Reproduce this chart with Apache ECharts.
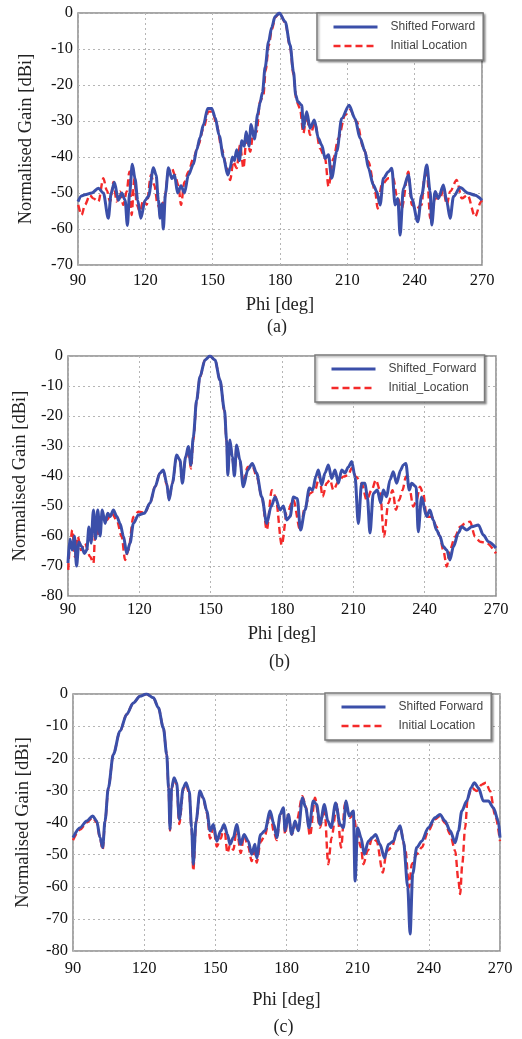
<!DOCTYPE html>
<html>
<head>
<meta charset="utf-8">
<script src="https://cdn.jsdelivr.net/npm/echarts@6/dist/echarts.min.js"></script>
<style>
  html, body { margin: 0; padding: 0; background: #fff; }
  #chart { width: 522px; height: 1039px; }
</style>
</head>
<body>
<div id="chart"></div>
<script>
// Azimuth cuts of the normalised gain, three pointing cases (a), (b), (c).
// Each entry is [phi in degrees, gain in dBi].

const PHI_TICKS = [90, 120, 150, 180, 210, 240, 270];
const GAIN_MIN = [-70, -80, -80];
const CAPTIONS = ['(a)', '(b)', '(c)'];
const NAMES_SF = ['Shifted Forward', 'Shifted_Forward', 'Shifted Forward'];
const NAMES_IL = ['Initial Location', 'Initial_Location', 'Initial Location'];

const shiftedA = [[90,-52.4],[91.5,-50.8],[93.1,-50.5],[96.1,-50],[99.1,-48.7],[101.3,-50],[103.5,-57],[104.8,-50],[106.2,-47],[108,-52],[109.5,-50],[111,-52],[112,-59],[113,-50],[114.2,-42],[115.4,-46],[116.6,-52],[118,-57],[119.9,-52],[121.4,-51],[123.6,-43],[124.8,-45],[125.8,-52],[126.6,-57],[127.3,-53],[128,-60],[129,-50],[130.3,-43],[131.8,-46],[133,-45],[134.4,-50],[135.9,-48],[137.4,-50],[139.2,-45],[141.4,-42],[142.9,-38],[144.4,-34.5],[145.9,-31],[147.8,-26.5],[149.6,-26.5],[151.1,-29],[152.9,-34],[154.8,-40],[156.7,-45],[157.8,-43],[158.8,-40],[159.7,-41],[160.7,-38],[161.9,-41],[163,-35.5],[164.1,-37],[164.9,-33],[166.2,-37],[167.1,-31],[168.6,-35],[170.1,-28],[171.1,-25],[172.2,-22],[173.4,-15],[174.9,-8],[176.3,-4],[177.8,-1],[179.7,0],[182.3,-2.4],[184.5,-8.9],[186,-16.3],[187,-22.8],[187.9,-24.6],[189.7,-25.6],[190.4,-32],[191.9,-27.4],[193.4,-32],[195.3,-29.7],[197.1,-34.8],[198.6,-36.7],[200.1,-40.4],[201.6,-39.4],[203,-45.9],[205.3,-38.5],[207.5,-29.3],[210.8,-25.6],[213.4,-29.3],[215.7,-34.8],[217.9,-38.5],[219.4,-43.1],[221.6,-47.8],[223.1,-49.6],[224.6,-53.3],[226.1,-45.9],[228.3,-44.1],[229.8,-43.1],[231.3,-53.3],[232.5,-51.5],[233.5,-61.7],[235,-48.7],[237.2,-45],[238.7,-51.5],[241.4,-58],[243.1,-50.6],[245.4,-42.2],[246.9,-49.6],[247.6,-58.9],[249.1,-49.6],[250.6,-51.5],[252.8,-47.8],[254.3,-52.4],[255.8,-57],[257.3,-51],[260.2,-48.5],[264,-50.1],[266.9,-50.6],[270,-52]];

const initialA = [[90.1,-53.3],[91.6,-56.1],[93.1,-53.3],[95.3,-50.6],[96.8,-51.5],[99.1,-52.4],[101.3,-45.9],[102.8,-49.2],[104.3,-52.4],[105.8,-46.9],[107.2,-52.4],[108.7,-49.6],[110.2,-53.3],[111.7,-49.6],[112.9,-44.1],[113.9,-56.1],[115.1,-45.9],[116.2,-53.3],[117.6,-55.2],[119.1,-51.9],[120.6,-53.3],[122.5,-45],[124,-47.8],[125.5,-53.3],[127,-55.2],[128.5,-51.5],[130.3,-44.1],[131.8,-43.1],[133.2,-45],[134.7,-47.8],[135.9,-53.3],[137.4,-46.9],[139.2,-44.1],[141.4,-40.4],[143.6,-36.7],[145.9,-32],[148.1,-27.4],[149.9,-27.4],[151.8,-31.1],[154,-37.6],[156.3,-43.1],[157.8,-46.4],[159.2,-41.3],[160.7,-43.1],[162.2,-36.7],[163.7,-43.1],[165.2,-33.9],[166.7,-38.5],[168.2,-33],[169.6,-33],[171.1,-24.6],[172.6,-22.8],[173.6,-16],[175,-9],[176.4,-4.5],[177.9,-1.2],[179.8,0],[182.3,-2.6],[184.5,-9.4],[186,-17.2],[187.4,-24.6],[188.9,-26.5],[190.4,-33.4],[191.9,-28.3],[193.4,-33.9],[195.6,-30.6],[197.8,-37.6],[200.1,-40.4],[201.6,-48.2],[203.8,-40.4],[206,-34.8],[209,-28.3],[211.2,-26.9],[214.2,-30.2],[217.2,-37.6],[219.4,-41.3],[222.4,-49.6],[223.5,-54.3],[225.3,-47.8],[228.3,-45.9],[230.5,-45.9],[232,-50.6],[234.2,-54.3],[237.2,-44.1],[238.7,-53.3],[240.9,-54.3],[243.1,-53.3],[244.3,-45.9],[245.4,-43.1],[246.9,-57],[249.1,-51.5],[251.3,-51.5],[252.8,-49.2],[254.3,-53.3],[255.8,-49.6],[258.7,-46.4],[261,-51.5],[263.6,-50.6],[266.9,-56.6],[269.6,-52.4],[270,-52]];

const shiftedB = [[90,-69],[90.8,-61],[91.8,-64.7],[92.7,-60],[93.6,-70],[94.6,-62],[95.7,-63.5],[96.9,-65.8],[97.9,-64.7],[98.8,-57],[99.7,-62.4],[100.7,-51.3],[101.6,-61],[102.5,-51.3],[103.5,-60],[104.4,-51.3],[105.6,-55.8],[106.7,-52.4],[107.7,-53.5],[109.1,-51.3],[110.5,-53.5],[111.9,-55.8],[113.3,-60],[114.7,-65.8],[116.1,-62.4],[117.5,-55.8],[119.6,-53],[122.1,-52.4],[124.5,-49],[126.6,-43.6],[128.7,-39],[130.1,-38],[131.5,-42.4],[132.5,-48],[133.9,-42.4],[135.7,-33],[137.1,-34.7],[138.1,-42.4],[139.5,-33.6],[140.6,-30.2],[141.7,-36.3],[142.7,-27],[144.1,-14.7],[145.5,-6.9],[147.6,-1.3],[149.7,0],[151.8,-1.3],[153.9,-8],[155.8,-18],[156.7,-28],[157.2,-39.7],[158.1,-28],[159.1,-33.6],[160,-40],[160.9,-29.7],[162.3,-34.7],[163.7,-43.6],[165.6,-38],[167.5,-35.8],[169.3,-39],[171.5,-47],[173.6,-55.8],[175.4,-50.2],[177.1,-47],[179.2,-51.3],[180.6,-50],[182,-54.7],[183.4,-53.5],[184.8,-47],[186.4,-47.5],[187.8,-58],[189.7,-51.3],[191.5,-44],[192.9,-44.7],[194.3,-40],[195.3,-38],[196.7,-43],[198.1,-39],[199.5,-36.3],[200.9,-40.8],[202.3,-38],[203.7,-42.4],[205.1,-38],[206.5,-39],[207.9,-37],[209.3,-35.2],[210.7,-40.2],[212.1,-55.8],[213.5,-42.4],[214.9,-42.4],[215.9,-47],[217,-59],[218.4,-45.8],[220.1,-44.7],[221.5,-49],[222.6,-44.7],[224,-46.9],[225.4,-41.3],[226.8,-38.6],[228.2,-42.4],[229.9,-38],[231,-36.3],[232.1,-35.8],[233.5,-44.7],[234.5,-42.4],[236.4,-43.6],[237.3,-58.6],[238.7,-47],[240.8,-53.5],[242.2,-51.3],[243.6,-54.7],[245,-58],[246.4,-60],[247.8,-63.5],[249.3,-64.7],[250.6,-68],[252.1,-63.5],[254.2,-59],[255.6,-56.9],[257.7,-58],[259.8,-56.9],[262.6,-56.3],[264.7,-59.7],[266.8,-61.9],[270,-64]];

const initialB = [[90.1,-71.3],[90.8,-63.6],[91.8,-58],[92.9,-66.9],[94.1,-60.2],[95.5,-64.7],[97.1,-62.4],[99.3,-66.9],[100.7,-69.1],[101.6,-55.8],[102.8,-60.2],[104.2,-53.6],[106.3,-54.7],[108.4,-52.4],[110.5,-54.7],[112.6,-60.2],[114,-68],[115.4,-64.7],[117.5,-53.6],[119.6,-51.9],[122.4,-52.2],[124.5,-49],[126.6,-43.6],[128.7,-39],[130.1,-38.3],[131.5,-42.8],[132.5,-47.5],[133.9,-42.4],[135.7,-33.5],[137.1,-35],[138.1,-41.5],[139.5,-34],[140.6,-31],[141.7,-37.5],[142.7,-28],[144.1,-15],[145.5,-7],[147.6,-1.3],[149.7,0],[151.8,-1.3],[153.9,-8],[155.8,-18.5],[156.7,-28.5],[157.2,-38.5],[158.1,-29],[159.1,-34],[160,-39],[160.9,-30.5],[162.3,-35],[163.7,-42],[165.6,-37],[167.5,-36.5],[169.3,-40],[171.5,-46.9],[173.6,-58],[175.7,-44.7],[177.3,-46.9],[179.9,-63],[182,-52.4],[184.8,-48],[187.6,-58],[189.7,-50.2],[191.8,-45.8],[193.9,-44.7],[195.7,-40.2],[197.1,-46.9],[198.8,-42.4],[200.2,-41.3],[201.6,-44.7],[203.7,-41.9],[205.8,-40.2],[207.9,-39.7],[209.3,-37.4],[211.1,-40.2],[213.5,-42.4],[215.6,-48],[217.7,-44.7],[219.5,-41.3],[221.2,-44.7],[222.9,-60.2],[224.7,-49.1],[226.5,-44.7],[227.9,-51.3],[229.3,-48],[230.7,-44.7],[232.1,-40.2],[233.5,-43.6],[235.2,-50.2],[236.6,-48],[238,-43.6],[239.4,-45.8],[240.8,-53.6],[243,-53.6],[245,-56.9],[246.4,-60.2],[247.8,-64.7],[249.3,-70.2],[250.6,-64.7],[252.8,-60.2],[254.9,-56.9],[257,-55.8],[259.1,-55.2],[261.2,-60.2],[263.3,-61.9],[266.1,-62.4],[270,-65.8]];

const shiftedC = [[90,-44.7],[93,-41.6],[95.8,-39.5],[98.3,-38],[100,-39.5],[101.4,-44.7],[102.5,-47.8],[103.5,-39.5],[104.9,-29.2],[107,-18.8],[109.8,-11.6],[112.6,-6.4],[115.4,-2.8],[118.2,-0.7],[121,0],[123.9,-1.2],[126,-4.3],[128.1,-10.6],[129.5,-18.8],[130.3,-29.2],[130.9,-42.1],[131.6,-29.2],[132.6,-26.1],[133.7,-27.6],[134.8,-39],[136.5,-29.2],[137.6,-27.6],[139,-30.2],[140,-41.6],[140.7,-53],[141.9,-39.5],[143.5,-30.2],[144.9,-32.3],[146.4,-36.4],[147.8,-42.6],[149.2,-40.6],[150.6,-45.8],[152.3,-42.6],[153.7,-40.6],[155.1,-43.7],[156.2,-46.8],[157.6,-44.7],[159,-40.6],[160.7,-46.8],[162.1,-43.7],[163.9,-45.8],[165.3,-49.9],[166.7,-46.8],[167.4,-51],[169.1,-43.7],[170.9,-42.6],[173.1,-36.4],[174.7,-40.6],[175.9,-44.7],[177.3,-37.5],[178.7,-35.4],[179.4,-42.6],[180.8,-37.5],[182.2,-43.7],[183.6,-39.5],[185,-42.6],[186.7,-32.3],[188.1,-35.4],[189.5,-41.6],[191.3,-33.3],[192.7,-34.4],[194.1,-40.6],[196,-34.4],[197.4,-39.5],[198.8,-41.6],[200.7,-33.9],[202.6,-40.6],[204,-41.6],[205.1,-33.3],[206.4,-38],[208.2,-36.4],[208.9,-58.2],[210,-41.6],[211.4,-44.7],[212.8,-49.9],[214.5,-45.8],[216.2,-44.7],[217.6,-43.7],[219.4,-46.8],[221.3,-51],[223,-46.8],[225.1,-45.8],[226.5,-42.6],[227.9,-41],[229.3,-45.8],[231.1,-60],[232.1,-74.7],[233.2,-56],[234.9,-47.8],[237,-45.8],[239.8,-41.6],[242.6,-38.5],[244.7,-37.5],[246.8,-39.5],[249,-42.6],[251.1,-46.3],[252.5,-42.6],[253.9,-36.4],[256,-33.3],[257.8,-29.2],[259.2,-27.6],[260.9,-29.2],[263,-33.3],[265.1,-33.3],[267.2,-35.4],[269.3,-39.5],[270,-44.7]];

const initialC = [[90,-45.5],[93,-42.2],[95.8,-40],[98.3,-38.5],[100,-40],[101.4,-45],[102.5,-48.5],[103.5,-39.8],[104.9,-29.4],[107,-18.8],[109.8,-11.6],[112.6,-6.4],[115.4,-2.8],[118.2,-0.7],[121,0],[123.9,-1.2],[126,-4.3],[128.1,-10.6],[129.5,-18.8],[130.3,-29.4],[130.9,-42.5],[131.6,-29.5],[132.6,-26.5],[133.7,-28.2],[134.8,-40.5],[136.5,-29.6],[137.6,-28],[139,-31],[140,-42],[140.7,-55],[141.9,-40],[143.5,-30.5],[144.9,-32.5],[146.4,-37],[147.8,-45],[149.2,-41.5],[150.6,-47.5],[152.3,-45],[153.7,-41],[155.1,-49.5],[156.2,-47],[157.6,-48.5],[159,-42],[160.7,-49.5],[162.1,-44],[163.9,-47.5],[165.3,-52],[166.7,-47.5],[167.4,-52.5],[169.1,-46],[170.9,-44],[173.1,-37],[174.7,-43],[175.9,-45.5],[177.3,-38],[178.7,-36],[179.4,-43.7],[180.8,-37.5],[182.2,-43.7],[184.3,-39.5],[186.7,-31.8],[188.1,-34.9],[189.9,-44.2],[192,-32.3],[194.1,-41.6],[196,-35.4],[197.6,-53],[199,-44.7],[201.2,-34.4],[203,-47.8],[204.7,-33.9],[206.8,-38.5],[208.2,-37.5],[209.6,-42.6],[211.4,-47.8],[212.4,-53],[214.2,-48.9],[216.2,-44.7],[218,-45.8],[220.6,-55.6],[222.2,-48.9],[224.4,-47.8],[226.5,-42.6],[227.9,-41.6],[230,-47.8],[231.7,-60.2],[232.8,-53],[234.9,-49.9],[237,-47.8],[239.8,-42.6],[242.6,-39],[244.7,-38],[246.8,-40.1],[249,-43.7],[251.1,-48.9],[252.5,-58.2],[253.2,-62.3],[254.1,-53],[255.3,-41.6],[256.4,-32.3],[258.1,-29.2],[260.2,-30.2],[262.3,-28.2],[264.1,-27.6],[265.8,-30.2],[267.9,-37.5],[270,-45.8]];

const SHIFTED = [shiftedA, shiftedB, shiftedC];
const INITIAL = [initialA, initialB, initialC];

// ---- layout & styling ----
const SERIF = 'Liberation Serif';
const SANS = 'Liberation Sans';
const BLUE = '#3b4fa9';
const RED = '#f42a2a';

const grids = [
  { left: 78, top: 13, width: 404, height: 252 },
  { left: 68, top: 356, width: 428, height: 240 },
  { left: 73, top: 694, width: 427, height: 257 }
];
const xNameGap = [31, 29, 40];
const xLabelMargin = [7, 5, 9];
const yNameGap = [42, 37, 40];
const captionTop = [318, 653, 1018];
const legendPos = [
  { left: 317, top: 13 },
  { left: 315, top: 355 },
  { left: 325, top: 693 }
];

const option = {
  backgroundColor: '#fff',
  animation: false,
  title: CAPTIONS.map((t, i) => ({
    text: t,
    left: grids[i].left + grids[i].width / 2 - 13,
    top: captionTop[i],
    padding: 0,
    textStyle: { fontFamily: SERIF, fontSize: 18, fontWeight: 'normal', color: '#222' }
  })),
  grid: grids.map(g => Object.assign({
    show: true, borderColor: '#8a8a8a', borderWidth: 1.5, backgroundColor: 'transparent'
  }, g)),
  legend: legendPos.map((p, i) => ({
    left: p.left, top: p.top,
    orient: 'vertical',
    data: [NAMES_SF[i], NAMES_IL[i]],
    itemWidth: 44, itemHeight: 14, itemGap: 7,
    padding: [8, 8, 8, 15],
    backgroundColor: '#fff',
    borderColor: '#7a7a7a', borderWidth: 1.5, borderRadius: 0,
    shadowColor: 'rgba(0,0,0,0.35)', shadowBlur: 2, shadowOffsetX: 1.5, shadowOffsetY: 1.5,
    selectedMode: false,
    itemStyle: { color: 'transparent', borderWidth: 0, opacity: 0 },
    lineStyle: { width: 'inherit', type: 'inherit' },
    textStyle: { fontFamily: SANS, fontSize: 12, color: '#444', padding: [0, 0, 0, 8] }
  })),
  xAxis: grids.map((g, i) => ({
    type: 'value', gridIndex: i,
    min: PHI_TICKS[0], max: PHI_TICKS[PHI_TICKS.length - 1],
    interval: PHI_TICKS[1] - PHI_TICKS[0],
    name: 'Phi [deg]', nameLocation: 'middle', nameGap: xNameGap[i],
    nameTextStyle: { fontFamily: SERIF, fontSize: 18.5, color: '#222' },
    axisLine: { show: false }, axisTick: { show: false },
    axisLabel: { fontFamily: SERIF, fontSize: 16.5, color: '#111', margin: xLabelMargin[i] },
    splitLine: { show: true, lineStyle: { color: '#b5b5b5', type: [2, 3], width: 1 } }
  })),
  yAxis: grids.map((g, i) => ({
    type: 'value', gridIndex: i,
    min: GAIN_MIN[i], max: 0, interval: 10,
    name: 'Normalised Gain [dBi]', nameLocation: 'middle', nameGap: yNameGap[i],
    nameTextStyle: { fontFamily: SERIF, fontSize: 18.5, color: '#222' },
    axisLine: { show: false }, axisTick: { show: false },
    axisLabel: { fontFamily: SERIF, fontSize: 16.5, color: '#111', margin: 5 },
    splitLine: { show: true, lineStyle: { color: '#b5b5b5', type: [2, 3], width: 1 } }
  })),
  series: []
};

for (let i = 0; i < 3; i++) {
  option.series.push({
    name: NAMES_IL[i], type: 'line', xAxisIndex: i, yAxisIndex: i,
    data: INITIAL[i], showSymbol: false, symbol: 'none',
    smooth: 0.3, smoothMonotone: 'x', z: 2,
    lineStyle: { color: RED, width: 2.4, type: [7, 4] },
    itemStyle: { color: RED }
  });
  option.series.push({
    name: NAMES_SF[i], type: 'line', xAxisIndex: i, yAxisIndex: i,
    data: SHIFTED[i], showSymbol: false, symbol: 'none',
    smooth: 0.3, smoothMonotone: 'x', z: 3,
    lineStyle: { color: BLUE, width: 3 },
    itemStyle: { color: BLUE }
  });
}

const chart = echarts.init(document.getElementById('chart'), null, { renderer: 'canvas' });
chart.setOption(option);
</script>
</body>
</html>
